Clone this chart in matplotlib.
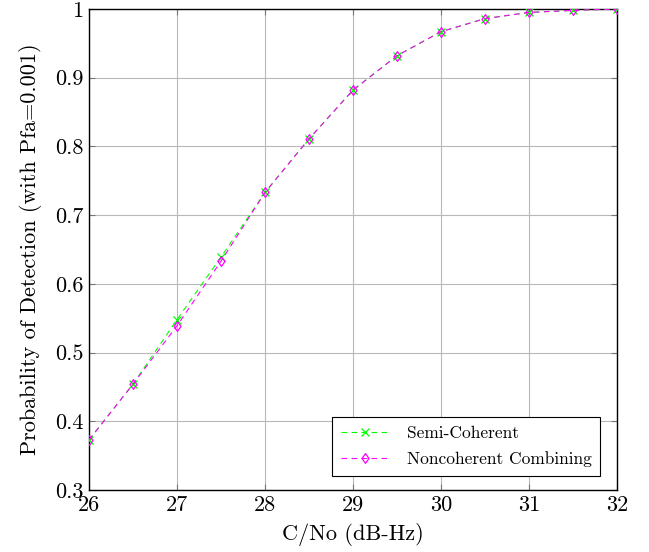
import matplotlib
matplotlib.use("Agg")
import matplotlib.pyplot as plt
from matplotlib.path import Path

plt.rcParams['font.family'] = ['cmr10', 'DejaVu Serif']
plt.rcParams['axes.formatter.use_mathtext'] = True
plt.rcParams['mathtext.fontset'] = 'cm'

cn0 = [26, 26.5, 27, 27.5, 28, 28.5, 29, 29.5, 30, 30.5, 31, 31.5, 32]
semi_coherent = [0.373, 0.454, 0.548, 0.639, 0.733, 0.811, 0.882, 0.932, 0.967, 0.986, 0.995, 0.998, 1.0]
noncoherent = [0.373, 0.454, 0.539, 0.633, 0.733, 0.811, 0.882, 0.932, 0.967, 0.986, 0.995, 0.998, 1.0]
xticks = [26, 27, 28, 29, 30, 31, 32]
yticks = [0.3, 0.4, 0.5, 0.6, 0.7, 0.8, 0.9, 1.0]
yticklabels = ['0.3', '0.4', '0.5', '0.6', '0.7', '0.8', '0.9', '1']

diamond = Path([(0, 1), (0.72, 0), (0, -1), (-0.72, 0), (0, 1)],
               [Path.MOVETO, Path.LINETO, Path.LINETO, Path.LINETO, Path.CLOSEPOLY])

fig = plt.figure(figsize=(6.49, 5.52), dpi=100)
ax = fig.add_axes([89/649, 62/552, 528/649, 481/552])

ax.plot(cn0, semi_coherent, color='#00ff00', linestyle=(0, (5, 4)), linewidth=0.8,
        marker='x', markersize=5.5, markeredgewidth=0.9, label='Semi-Coherent', zorder=3)
ax.plot(cn0, noncoherent, color='#ff00ff', linestyle=(0, (5, 4)), linewidth=0.8,
        marker=diamond, markersize=7, markerfacecolor='none', markeredgewidth=0.9,
        label='Noncoherent Combining', zorder=4)

ax.set_xlim(26, 32)
ax.set_ylim(0.3, 1.0)
ax.set_xticks(xticks)
ax.set_xticklabels([str(t) for t in xticks])
ax.set_yticks(yticks)
ax.set_yticklabels(yticklabels)
ax.grid(True, color='#b8b8b8', linewidth=0.8)
ax.tick_params(direction='in', length=4, width=0.8, color='#777777', labelsize=16,
               top=True, right=True, pad=4)
for s in ax.spines.values():
    s.set_linewidth(1.0)
    s.set_color('black')

ax.set_xlabel('C/No (dB-Hz)', fontsize=16, labelpad=6)
ax.set_ylabel('Probability of Detection (with Pfa=0.001)', fontsize=16, labelpad=9)

leg = ax.legend(loc='lower right', fontsize=12.5, fancybox=False, edgecolor='black',
                framealpha=1, borderpad=0.5, handlelength=2.8, handletextpad=1.0,
                labelspacing=0.6, borderaxespad=0, bbox_to_anchor=(0.968, 0.029))
leg.get_frame().set_linewidth(0.8)

fig.savefig('out.png', dpi=100)
